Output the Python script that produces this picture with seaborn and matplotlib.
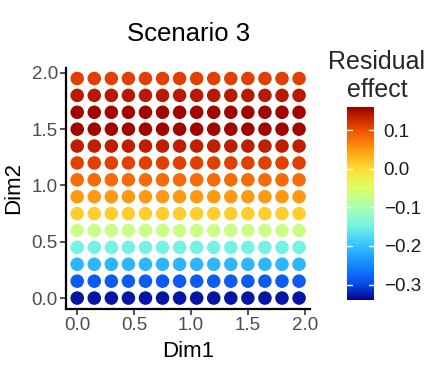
import numpy as np
import pandas as pd
import seaborn as sns
import matplotlib.pyplot as plt
from matplotlib.colors import LinearSegmentedColormap, Normalize
from matplotlib.cm import ScalarMappable

# grid positions (same for both dimensions)
dim1_vals = [0.0, 0.15, 0.3, 0.45, 0.6, 0.75, 0.9, 1.05, 1.2, 1.35, 1.5, 1.65, 1.8, 1.95]
dim2_vals = [0.0, 0.15, 0.3, 0.45, 0.6, 0.75, 0.9, 1.05, 1.2, 1.35, 1.5, 1.65, 1.8, 1.95]
# residual effect for each Dim2 row (constant along Dim1)
row_effect = [-0.33, -0.285, -0.21, -0.15, -0.07, 0.01, 0.05, 0.08, 0.11, 0.135,
              0.155, 0.155, 0.14, 0.11]
cbar_ticks = [-0.3, -0.2, -0.1, 0.0, 0.1]
cbar_labels = ["\u22120.3", "\u22120.2", "\u22120.1", "0.0", "0.1"]
effect_min, effect_max = -0.34, 0.16

rows = []
for y, eff in zip(dim2_vals, row_effect):
    for x in dim1_vals:
        rows.append({"Dim1": x, "Dim2": y, "effect": eff})
df = pd.DataFrame(rows)

# jet-like ramp, softened to match the picture
stops = [(-0.34, "#05058C"), (-0.30, "#0A48EC"), (-0.25, "#1488FF"),
         (-0.20, "#32C2FF"), (-0.15, "#74F2E4"), (-0.10, "#A8FFB0"),
         (-0.05, "#DCFF68"), (0.0, "#FFDC34"), (0.05, "#FF9A10"),
         (0.10, "#F05000"), (0.16, "#9C0000")]
jet = LinearSegmentedColormap.from_list(
    "soft_jet",
    [((v - effect_min) / (effect_max - effect_min), c) for v, c in stops],
)
norm = Normalize(effect_min, effect_max)

sns.set_theme(style="white")
plt.rcParams["font.family"] = ["Liberation Sans", "DejaVu Sans"]

fig = plt.figure(figsize=(4.35, 3.71), dpi=100)
ax = fig.add_axes([0.152, 0.167, 0.561, 0.651])

sns.scatterplot(data=df, x="Dim1", y="Dim2", hue="effect", palette=jet,
                hue_norm=norm, s=95, linewidth=0, legend=False, ax=ax)

ax.set_xlim(-0.0975, 2.0475)
ax.set_ylim(-0.0975, 2.0475)
ax.set_xticks([0.0, 0.5, 1.0, 1.5, 2.0])
ax.set_yticks([0.0, 0.5, 1.0, 1.5, 2.0])
ax.set_xticklabels(["0.0", "0.5", "1.0", "1.5", "2.0"])
ax.set_yticklabels(["0.0", "0.5", "1.0", "1.5", "2.0"])
for side in ["top", "right"]:
    ax.spines[side].set_visible(False)
for side in ["left", "bottom"]:
    ax.spines[side].set_color("black")
    ax.spines[side].set_linewidth(1.6)
ax.tick_params(axis="both", length=4, width=1.2, color="#333333",
               labelsize=13.5, labelcolor="#4D4D4D", pad=2, left=True, bottom=True)
ax.set_xlabel("Dim1", fontsize=16, color="black", labelpad=5)
ax.set_ylabel("Dim2", fontsize=16, color="black", labelpad=5)
ax.set_title("Scenario 3", fontsize=18.5, color="black", pad=19)

# colourbar
cax = fig.add_axes([347 / 435, 1 - 300 / 371, 27 / 435, 193 / 371])
sm = ScalarMappable(norm=norm, cmap=jet)
cb = fig.colorbar(sm, cax=cax, ticks=cbar_ticks)
cb.outline.set_visible(False)
cb.ax.set_yticklabels(cbar_labels)
cb.ax.tick_params(length=0, labelsize=13.5, labelcolor="#1A1A1A", pad=7)
for t in cbar_ticks:
    cax.plot([0, 0.2], [t, t], color="white", lw=1, transform=cax.get_yaxis_transform())
    cax.plot([0.8, 1.0], [t, t], color="white", lw=1, transform=cax.get_yaxis_transform())
fig.text(377 / 435, 1 - 76 / 371, "Residual\neffect", ha="center", va="center",
         fontsize=18, linespacing=1.2)

fig.savefig("out.png", dpi=100)
